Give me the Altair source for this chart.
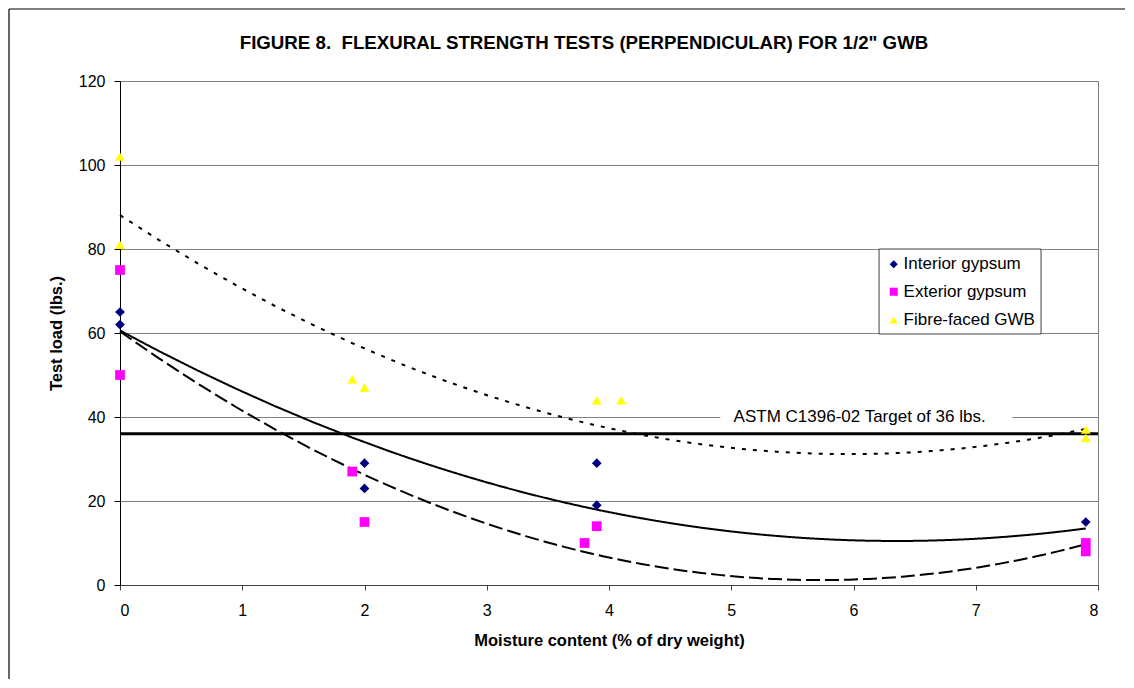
import altair as alt
import pandas as pd

# Data
interior_x = [0, 0, 2, 2, 3.9, 3.9, 7.9, 7.9]
interior_y = [65, 62, 29, 23, 29, 19, 15, 10]
exterior_x = [0, 0, 1.9, 2, 3.8, 3.9, 7.9, 7.9]
exterior_y = [75, 50, 27, 15, 10, 14, 10, 8]
fibre_x = [0, 0, 1.9, 2, 3.9, 4.1, 7.9, 7.9]
fibre_y = [102, 81, 49, 47, 44, 44, 37, 35]
series_names = ["Interior gypsum", "Exterior gypsum", "Fibre-faced GWB"]
series_colors = ["#000080", "#FF00FF", "#FFFF00"]
series_shapes = ["diamond", "square", "triangle-up"]
series_dash = [[1, 0], [14, 5], [4, 7]]

target_value = [36]
target_label = ["ASTM C1396-02 Target of 36 lbs."]
label_pos = [6.05, 40]
label_box = [4.91, 7.30, 38.6, 41.4]

# legend placement (in axis units, inside the plot like the original)
legend_box = [6.209, 7.534, 59.76, 80.0]
legend_symbol_x = 6.329
legend_label_x = 6.41
legend_rows_y = [76.36, 69.83, 63.1]

title_text = 'FIGURE 8.\u00a0 FLEXURAL STRENGTH TESTS (PERPENDICULAR) FOR 1/2" GWB'

rows = []
for name, xs, ys in zip(series_names, [interior_x, exterior_x, fibre_x], [interior_y, exterior_y, fibre_y]):
    for a, b in zip(xs, ys):
        rows.append({"series": name, "x": a, "y": b})
df = pd.DataFrame(rows)

FONT = "Liberation Sans"
W, H = 978, 504

xscale = alt.Scale(domain=[0, 8], nice=False)
yscale = alt.Scale(domain=[0, 120], nice=False)
cscale = alt.Scale(domain=series_names, range=series_colors)
sscale = alt.Scale(domain=series_names, range=series_shapes)

xaxis = alt.Axis(title="Moisture content (% of dry weight)", values=list(range(0, 9)), grid=False,
                 format="d", tickSize=5, labelPadding=12, titlePadding=14,
                 domainColor="#404040", tickColor="#404040")
yaxis = alt.Axis(title="Test load (lbs.)", values=list(range(0, 121, 20)), grid=True,
                 gridColor="#808080", tickSize=6, labelPadding=9, titlePadding=14,
                 domainColor="black", tickColor="black")

trend = alt.Chart(df).transform_regression(
    "x", "y", method="poly", order=2, groupby=["series"]
).mark_line(color="black", strokeWidth=2).encode(
    x=alt.X("x:Q", scale=xscale, axis=xaxis),
    y=alt.Y("y:Q", scale=yscale, axis=yaxis),
    strokeDash=alt.StrokeDash("series:N", scale=alt.Scale(domain=series_names, range=series_dash), legend=None),
    detail="series:N",
)

points = alt.Chart(df).mark_point(filled=True, size=95, opacity=1).encode(
    x=alt.X("x:Q", scale=xscale),
    y=alt.Y("y:Q", scale=yscale),
    color=alt.Color("series:N", scale=cscale, legend=None),
    shape=alt.Shape("series:N", scale=sscale, legend=None),
)

target_df = pd.DataFrame({"y": target_value})
target = alt.Chart(target_df).mark_rule(color="black", strokeWidth=3).encode(
    y=alt.Y("y:Q", scale=yscale), x=alt.value(0), x2=alt.value(W)
)

box_df = pd.DataFrame({"x": [label_box[0]], "x2": [label_box[1]], "y": [label_box[2]], "y2": [label_box[3]]})
box = alt.Chart(box_df).mark_rect(color="white").encode(
    x=alt.X("x:Q", scale=xscale), x2="x2:Q", y=alt.Y("y:Q", scale=yscale), y2="y2:Q"
)
lab_df = pd.DataFrame({"x": [label_pos[0]], "y": [label_pos[1]], "t": target_label})
lab = alt.Chart(lab_df).mark_text(font=FONT, fontSize=17, color="black").encode(
    x=alt.X("x:Q", scale=xscale), y=alt.Y("y:Q", scale=yscale), text="t:N"
)

# legend
lbox_df = pd.DataFrame({"x": [legend_box[0]], "x2": [legend_box[1]], "y": [legend_box[2]], "y2": [legend_box[3]]})
lbox = alt.Chart(lbox_df).mark_rect(fill="white", stroke="#404040", strokeWidth=1).encode(
    x=alt.X("x:Q", scale=xscale), x2="x2:Q", y=alt.Y("y:Q", scale=yscale), y2="y2:Q"
)
leg_df = pd.DataFrame({"series": series_names, "xs": [legend_symbol_x] * 3,
                       "xl": [legend_label_x] * 3, "y": legend_rows_y})
lsym = alt.Chart(leg_df).mark_point(filled=True, size=65, opacity=1).encode(
    x=alt.X("xs:Q", scale=xscale), y=alt.Y("y:Q", scale=yscale),
    color=alt.Color("series:N", scale=cscale, legend=None),
    shape=alt.Shape("series:N", scale=sscale, legend=None),
)
ltxt = alt.Chart(leg_df).mark_text(font=FONT, fontSize=17, align="left", baseline="middle", color="black").encode(
    x=alt.X("xl:Q", scale=xscale), y=alt.Y("y:Q", scale=yscale), text="series:N"
)

title_df = pd.DataFrame({"t": [title_text]})
title = alt.Chart(title_df).mark_text(font=FONT, fontSize=18.7, fontWeight="bold", color="black").encode(
    text="t:N", x=alt.value(464), y=alt.value(-38)
)

frame_top = alt.Chart(title_df).mark_rule(color="black", strokeWidth=1.2).encode(
    x=alt.value(-111), x2=alt.value(1005), y=alt.value(-72)
)
frame_left = alt.Chart(title_df).mark_rule(color="black", strokeWidth=1.2).encode(
    x=alt.value(-111), y=alt.value(-72), y2=alt.value(598)
)

chart = alt.layer(frame_top, frame_left, box, target, trend, points, lab, lbox, lsym, ltxt, title).properties(
    width=W, height=H, padding={"left": 0, "top": 0, "right": 0, "bottom": 0}, background="white"
).configure_view(stroke="#808080").configure_axis(
    labelFont=FONT, titleFont=FONT, labelFontSize=16, titleFontSize=16.5,
    titleFontWeight="bold", labelColor="black", titleColor="black"
)

chart.save("out.html", embed_options={"renderer": "svg", "actions": False})
